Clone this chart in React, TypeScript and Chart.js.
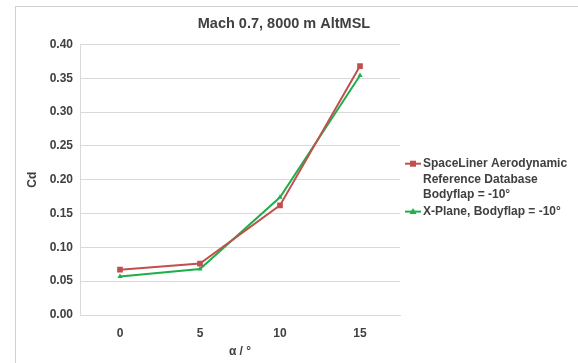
import React, { useEffect, useRef } from 'react';
import { Chart, registerables } from 'chart.js';

Chart.register(...registerables);

const categories = ['0', '5', '10', '15'];
const spaceLinerCd = [0.067, 0.076, 0.162, 0.368];
const xPlaneCd = [0.057, 0.068, 0.174, 0.354];
const yMin = 0;
const yMax = 0.4;
const yStep = 0.05;
const titleText = 'Mach 0.7, 8000 m AltMSL';
const xTitle = 'α / °';
const yTitle = 'Cd';
const legendSpaceLiner = ['SpaceLiner Aerodynamic', 'Reference Database', 'Bodyflap = -10°'];
const legendXPlane = ['X-Plane, Bodyflap = -10°'];

const RED = '#c0504d';
const GREEN = '#1db04a';
const TEXT = '#404040';
const GRID = '#d9d9d9';
const FONT = '"Liberation Sans", Arial, sans-serif';

const framePlugin = {
  id: 'frame',
  beforeDraw(chart: any) {
    const { ctx, width, height } = chart;
    ctx.save();
    ctx.fillStyle = '#ffffff';
    ctx.fillRect(0, 0, width, height);
    ctx.strokeStyle = '#d0d0d0';
    ctx.lineWidth = 1;
    ctx.strokeRect(15.5, 6.5, width, height);
    ctx.restore();
  },
};

const customLegend = {
  id: 'customLegend',
  afterDraw(chart: any) {
    const { ctx, chartArea } = chart;
    const groups = [legendSpaceLiner, legendXPlane];
    const x0 = chartArea.right + 5;
    const lineH = 15.7;
    let y = (chartArea.top + chartArea.bottom) / 2 - 16;
    ctx.save();
    ctx.font = `bold 12px ${FONT}`;
    ctx.textBaseline = 'middle';
    ctx.textAlign = 'left';
    chart.data.datasets.forEach((ds: any, i: number) => {
      const lines = groups[i];
      ctx.strokeStyle = ds.borderColor;
      ctx.lineWidth = 2;
      ctx.beginPath();
      ctx.moveTo(x0, y);
      ctx.lineTo(x0 + 16, y);
      ctx.stroke();
      ctx.fillStyle = ds.backgroundColor;
      const cx = x0 + 8;
      if (ds.pointStyle === 'rect') {
        ctx.fillRect(cx - 3, y - 3, 6, 6);
      } else {
        ctx.beginPath();
        ctx.moveTo(cx, y - 3.5);
        ctx.lineTo(cx + 3.5, y + 2.5);
        ctx.lineTo(cx - 3.5, y + 2.5);
        ctx.closePath();
        ctx.fill();
      }
      ctx.fillStyle = TEXT;
      lines.forEach((t: string, j: number) => {
        ctx.fillText(t, x0 + 18, y + j * lineH);
      });
      y += lines.length * lineH + 0.8;
    });
    ctx.restore();
  },
};

export default function App() {
  const ref = useRef<HTMLCanvasElement>(null);
  useEffect(() => {
    if (!ref.current) return;
    const yTickValues: number[] = [];
    for (let v = yMin; v <= yMax + 1e-9; v += yStep) yTickValues.push(Math.round(v * 100) / 100);
    const chart = new Chart(ref.current, {
      type: 'line',
      data: {
        labels: categories,
        datasets: [
          {
            label: legendSpaceLiner.join(' '),
            data: spaceLinerCd,
            borderColor: RED,
            backgroundColor: RED,
            borderWidth: 2,
            pointStyle: 'rect',
            pointRadius: 4,
            pointBorderWidth: 0,
            tension: 0,
            yAxisID: 'y',
          },
          {
            label: legendXPlane.join(' '),
            data: xPlaneCd,
            borderColor: GREEN,
            backgroundColor: GREEN,
            borderWidth: 2,
            pointStyle: 'triangle',
            pointRadius: 3,
            pointBorderWidth: 0,
            tension: 0,
            yAxisID: 'y',
          },
        ],
      },
      options: {
        responsive: false,
        animation: false,
        devicePixelRatio: 1,
        layout: { padding: { left: 0, right: 10, top: 0, bottom: 0 } },
        plugins: {
          legend: { display: false },
          tooltip: { enabled: false },
          title: {
            display: true,
            text: titleText,
            color: TEXT,
            font: { family: FONT, size: 14.5, weight: 'bold' },
            padding: { top: 15, bottom: 12 },
          },
        },
        scales: {
          x: {
            type: 'category',
            offset: true,
            grid: { display: false, drawTicks: false },
            border: { display: true, color: GRID, width: 1 },
            ticks: { color: TEXT, font: { family: FONT, size: 12, weight: 'bold' }, padding: 11 },
            title: {
              display: true,
              text: xTitle,
              color: TEXT,
              font: { family: FONT, size: 12, weight: 'bold' },
              padding: { top: 0, bottom: 4 },
            },
            afterFit(s: any) { s.height = 48; },
          },
          y: {
            type: 'linear',
            position: 'left',
            min: yMin,
            max: yMax,
            grid: { color: GRID, drawTicks: false },
            border: { display: true, color: GRID, width: 1 },
            afterBuildTicks(s: any) { s.ticks = yTickValues.map((v) => ({ value: v })); },
            ticks: {
              color: TEXT,
              font: { family: FONT, size: 12, weight: 'bold' },
              padding: 7,
              callback: (v: any) => Number(v).toFixed(2),
            },
            title: {
              display: true,
              text: yTitle,
              color: TEXT,
              font: { family: FONT, size: 12, weight: 'bold' },
              padding: { top: 25, bottom: 0 },
            },
            afterFit(s: any) { s.width = 80; },
          },
          yRight: {
            type: 'linear',
            position: 'right',
            display: true,
            grid: { display: false, drawTicks: false },
            border: { display: false },
            ticks: { display: false },
            afterFit(s: any) { s.width = 168; },
          },
        },
      },
      plugins: [framePlugin, customLegend],
    });
    return () => chart.destroy();
  }, []);
  return (
    <div style={{ position: 'absolute', left: 0, top: 0, width: 578, height: 363 }}>
      <canvas ref={ref} width={578} height={363} style={{ width: 578, height: 363 }} />
    </div>
  );
}
